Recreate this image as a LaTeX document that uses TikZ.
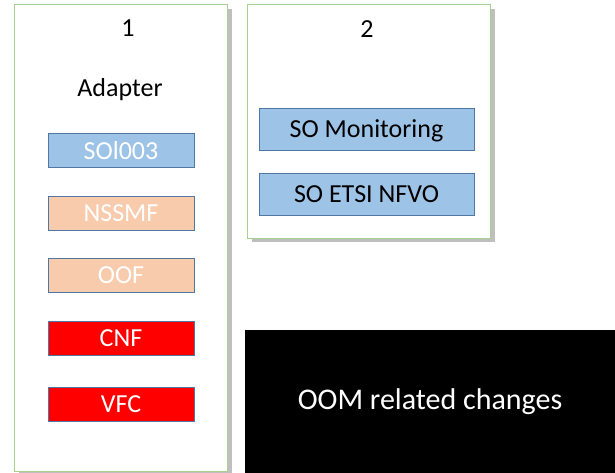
\documentclass[tikz,border=0pt]{standalone}
\usepackage{fontspec}
\setmainfont{Carlito}
\usetikzlibrary{shadows}
\definecolor{panelgreen}{RGB}{169,209,142}
\definecolor{soblue}{RGB}{157,195,230}
\definecolor{edgeblue}{RGB}{80,120,165}
\definecolor{peach}{RGB}{248,203,173}
\begin{document}
\begin{tikzpicture}[x=1pt, y=-1pt,
	panel/.style={draw=panelgreen, line width=1pt, fill=white, minimum width=#1, inner sep=0pt,
		drop shadow={shadow xshift=5pt, shadow yshift=-4pt, opacity=0.5, fill=gray}},
	box/.style={draw=edgeblue, line width=0.8pt, fill=#1, inner sep=0pt, text depth=0pt,
		font=\fontsize{26}{31}\selectfont},
	label/.style={font=\fontsize{26}{31}\selectfont}]
		\useasboundingbox (0,0) rectangle (615,473);
		\node (P1) [panel=213pt, minimum height=466pt] at (120.5,238) {};
		\node (P2) [panel=243pt, minimum height=233pt] at (368.5,121.5) {};
		\node (N1) [label] at (128,28) {1};
		\node (A) [label] at (120,90) {Adapter};
		\node (N2) [label] at (367,29) {2};
		\node (SOL) [box=soblue, minimum width=146pt, minimum height=34pt, text=white] at (121,150) {SOl003};
		\node (NSSMF) [box=peach, minimum width=146pt, minimum height=34pt, text=white] at (121,213) {NSSMF};
		\node (OOF) [box=peach, minimum width=146pt, minimum height=34pt, text=white] at (121,275) {OOF};
		\node (CNF) [box=red, minimum width=146pt, minimum height=34pt, text=white] at (121,338) {CNF};
		\node (VFC) [box=red, minimum width=146pt, minimum height=34pt, text=white] at (121,404) {VFC};
		\node (MON) [box=soblue, minimum width=215pt, minimum height=42pt] at (366.5,129) {SO Monitoring};
		\node (NFVO) [box=soblue, minimum width=215pt, minimum height=42pt] at (366.5,194) {SO ETSI NFVO};
		\node (OOM) [fill=black, text=white, minimum width=370pt, minimum height=143pt, inner sep=0pt,
			font=\fontsize{30}{36}\selectfont] at (430,401.5) {OOM related changes};
		\end{tikzpicture}
\end{document}
